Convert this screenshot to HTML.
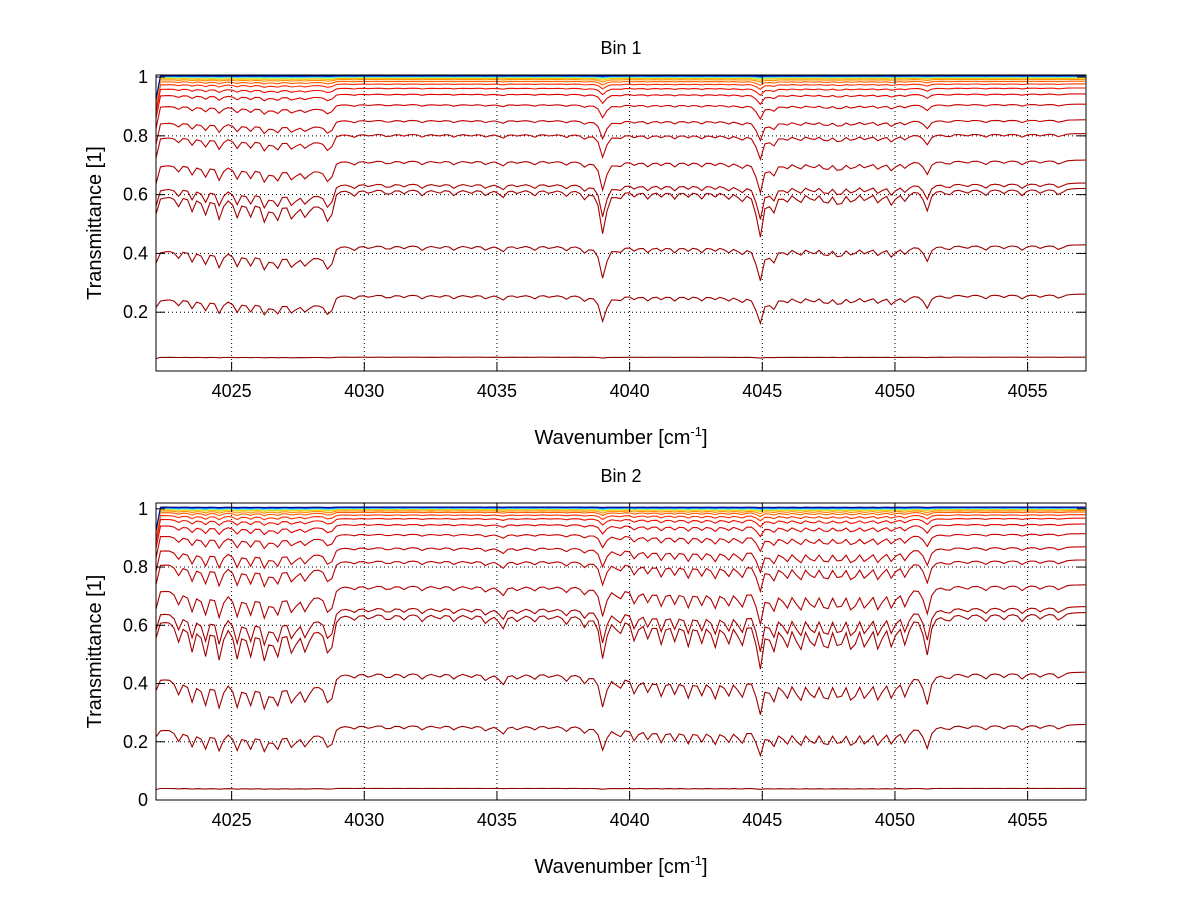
<!DOCTYPE html>
<html><head><meta charset="utf-8"><style>
html,body{margin:0;padding:0;background:#fff;}
svg{display:block;font-family:"Liberation Sans",sans-serif;}
</style></head><body>
<svg id="chart" width="1200" height="901" viewBox="0 0 1200 901" xmlns="http://www.w3.org/2000/svg"></svg>
<script>
// ---------- data ----------
const xTicks = [4025, 4030, 4035, 4040, 4045, 4050, 4055];
const yTicksTop = [0.2, 0.4, 0.6, 0.8, 1];
const yTicksBottom = [0, 0.2, 0.4, 0.6, 0.8, 1];
const xDomain = [4022.15, 4057.2];
// absorption line positions (cm-1)
const linePos = [4023.0,4023.5,4024.0,4024.55,4025.2,4025.7,4026.25,4026.7,4027.3,4027.8,4028.7,
 4029.6,4030.2,4030.9,4031.5,4032.2,4032.8,4033.4,4034.0,4034.6,4035.2,4035.8,4036.4,4037.0,4037.6,4038.3,
 4039.0,4039.6,4040.2,4040.7,4041.2,4041.7,4042.2,4042.7,4043.2,4043.7,4044.2,4044.9,4045.4,4045.9,4046.4,
 4046.9,4047.4,4047.9,4048.4,4048.9,4049.4,4049.9,4050.4,4051.2,4052.0,4052.7,4053.4,4054.1,4054.8,4055.5,4056.2];
// line strengths, bin 1
const strengthBin1 = [0.06,0.09,0.1,0.12,0.1,0.09,0.11,0.1,0.09,0.07,0.12,
 0.03,0.02,0.03,0.02,0.03,0.02,0.03,0.02,0.03,0.04,0.02,0.03,0.02,0.03,0.04,
 0.22,0.04,0.03,0.04,0.03,0.04,0.03,0.04,0.03,0.04,0.05,0.24,0.1,0.05,0.06,
 0.05,0.07,0.08,0.06,0.05,0.06,0.07,0.05,0.1,0.03,0.02,0.03,0.02,0.03,0.02,0.03];
// line strengths, bin 2
const strengthBin2 = [0.12,0.18,0.2,0.22,0.2,0.18,0.2,0.18,0.16,0.14,0.2,
 0.03,0.03,0.04,0.03,0.04,0.03,0.04,0.03,0.05,0.08,0.04,0.04,0.03,0.05,0.06,
 0.24,0.1,0.13,0.11,0.14,0.12,0.15,0.13,0.16,0.14,0.16,0.3,0.18,0.16,0.19,
 0.17,0.2,0.18,0.2,0.17,0.18,0.16,0.15,0.22,0.04,0.03,0.04,0.03,0.04,0.03,0.04];
// broad continuum absorption knots (wavenumber, optical depth)
const contX = [4022.15, 4023.3, 4026.0, 4028.6, 4028.9, 4057.2];
const contTau = [0.05, 0.0, 0.03, 0.07, 0.0, 0.0];
// curve baselines and optical depth scales
const baseBin1 = [0.0,0.047,0.262,0.43,0.622,0.64,0.718,0.808,0.855,0.908,0.943,0.963,0.977,0.986,0.992,0.996,0.999,1.001,1.003,1.005];
const scaleBin1 = [0,0.3,2.0,1.4,1.3,0.9,0.7,0.48,0.36,0.24,0.16,0.11,0.08,0.06,0.04,0.03,0.02,0.015,0.01,0.005];
const baseBin2 = [0.0,0.04,0.26,0.44,0.645,0.665,0.74,0.825,0.87,0.915,0.948,0.968,0.98,0.989,0.994,0.998,1.0,1.002,1.004,1.006];
const scaleBin2 = [0,0.3,1.7,1.3,1.15,0.85,0.65,0.45,0.34,0.22,0.15,0.1,0.07,0.05,0.035,0.025,0.02,0.015,0.01,0.005];
const curveColors = ['#800000','#8b0000','#9a0000','#9a0000','#a00000','#a80000','#b00000','#b80000','#c00000','#cc0000','#dd0000','#ee1000','#ff3000','#ff6000','#ff9000','#ffc000','#c0ff40','#40e0ff','#0050ff','#000090'];

// ---------- drawing ----------
const svg = document.getElementById('chart');
const NS = 'http://www.w3.org/2000/svg';
function mk(tag, attrs, parent){const e=document.createElementNS(NS,tag);for(const k in attrs)e.setAttribute(k,attrs[k]);(parent||svg).appendChild(e);return e;}
function interp(x, xs, ys){if(x<=xs[0])return ys[0];for(let i=1;i<xs.length;i++){if(x<=xs[i]){const t=(x-xs[i-1])/(xs[i]-xs[i-1]);return ys[i-1]+t*(ys[i]-ys[i-1]);}}return ys[ys.length-1];}
function tauAt(x, strengths){let s=interp(x,contX,contTau);const w=0.13;for(let j=0;j<linePos.length;j++){const d=(x-linePos[j])/w;s+=strengths[j]/(1+d*d);}return s;}

function panel(idx, top, bottom, yMax, yTicks, strengths, bases, scales, title){
  const L=156,R=1086;
  const sx=v=>L+(v-xDomain[0])/(xDomain[1]-xDomain[0])*(R-L);
  const sy=v=>bottom-(v-0)/(yMax)*(bottom-top);
  const g=mk('g',{});
  
  
  mk('rect',{x:L,y:top,width:R-L,height:bottom-top,fill:'#fff'},g);
  xTicks.forEach(t=>{const l=mk('line',{x1:sx(t),x2:sx(t),y1:top,y2:bottom,stroke:'#000','stroke-width':1,'stroke-dasharray':'1,3'},g);
    
    });
  yTicks.forEach(t=>{if(t===0)return;const l=mk('line',{x1:L,x2:R,y1:sy(t),y2:sy(t),stroke:'#000','stroke-width':1,'stroke-dasharray':'1,3'},g);
    
    });
  const step=0.17;
  for(let c=0;c<bases.length;c++){
    let d='';
    for(let x=xDomain[0],i=0;x<=xDomain[1]+1e-9;x+=step,i++){
      let v=bases[c]*Math.exp(-scales[c]*tauAt(x,strengths));
      if(i===0) v*=0.92;
      d+=(i?'L':'M')+sx(x).toFixed(1)+','+sy(v).toFixed(1);
    }
    const p=mk('path',{d:d,fill:'none',stroke:curveColors[c],'stroke-width':1.1},g);
    
    
  }
  mk('rect',{x:L,y:top,width:R-L,height:bottom-top,fill:'none',stroke:'#000','stroke-width':1},g);
  xTicks.forEach(t=>{
    mk('line',{x1:sx(t),x2:sx(t),y1:bottom,y2:bottom-9,stroke:'#000'},g);
    mk('line',{x1:sx(t),x2:sx(t),y1:top,y2:top+9,stroke:'#000'},g);
    const tx=mk('text',{x:sx(t),y:bottom+26,'font-size':18,'text-anchor':'middle'},g);
    tx.textContent=t;
    
    
  });
  yTicks.forEach(t=>{
    mk('line',{x1:L,x2:L+9,y1:sy(t),y2:sy(t),stroke:'#000'},g);
    mk('line',{x1:R,x2:R-9,y1:sy(t),y2:sy(t),stroke:'#000'},g);
    const tx=mk('text',{x:L-8,y:sy(t)+6,'font-size':18,'text-anchor':'end'},g);
    tx.textContent=String(t);
    
    
  });
  const ti=mk('text',{x:(L+R)/2,y:top-21,'font-size':18,'text-anchor':'middle'},g);
  ti.textContent=title;
  
  
  const xl=mk('text',{x:(L+R)/2,y:bottom+73,'font-size':20,'text-anchor':'middle'},g);
  xl.innerHTML='Wavenumber [cm<tspan dy="-8" font-size="13">-1</tspan><tspan dy="8">]</tspan>';
  
  
  const cy=(top+bottom)/2;
  const yl=mk('text',{x:101,y:cy,'font-size':20,'text-anchor':'middle',transform:'rotate(-90 101 '+cy+')'},g);
  yl.textContent='Transmittance [1]';
  
  
}
panel(1, 75, 371, 1.007, yTicksTop, strengthBin1, baseBin1, scaleBin1, 'Bin 1');
panel(2, 503, 800, 1.02, yTicksBottom, strengthBin2, baseBin2, scaleBin2, 'Bin 2');
</script>
</body></html>
